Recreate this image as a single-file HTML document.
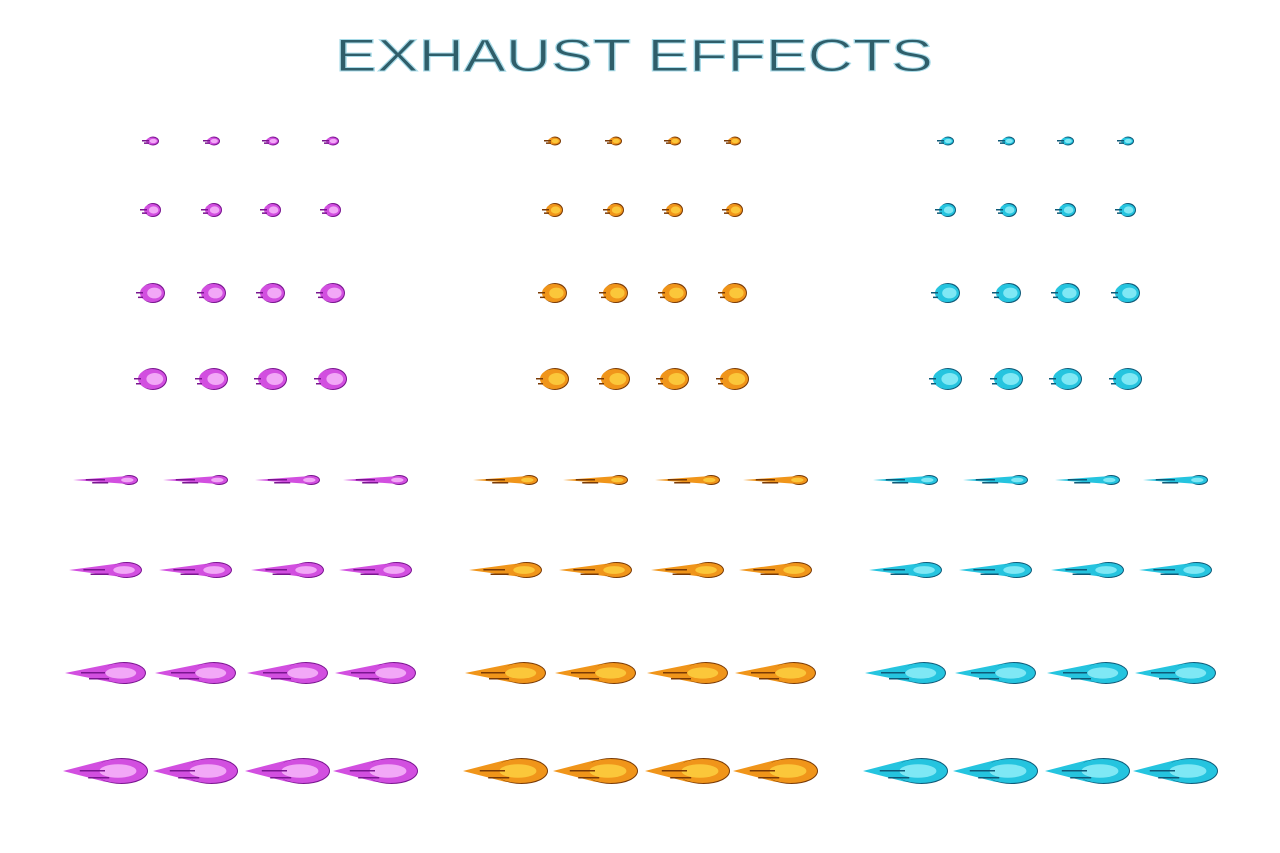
<!DOCTYPE html>
<html><head><meta charset="utf-8"><style>
html,body{margin:0;padding:0;background:#fff;width:1280px;height:853px;overflow:hidden}
</style></head><body>
<svg id="sheet" width="1280" height="853" viewBox="0 0 1280 853" xmlns="http://www.w3.org/2000/svg">
<text x="335" y="71" textLength="598" lengthAdjust="spacingAndGlyphs" font-family="Liberation Sans, sans-serif" font-weight="normal" font-size="45" fill="#2f5e6a" stroke="#a8dbe8" stroke-width="1">EXHAUST EFFECTS</text>
<g id="sprites"></g>
</svg>
<script>
const themes = [
  {name:'purple', dark:'#7a1590', mid:'#d24fe0', light:'#f2a8f7', core:'#fbe0fd'},
  {name:'orange', dark:'#7a3a05', mid:'#f0951a', light:'#fbc73a', core:'#fff2a0'},
  {name:'cyan',   dark:'#0e5a78', mid:'#25c4df', light:'#7fe8f5', core:'#d8fbff'}
];
const topGroupX = [152, 554, 947];
const topColOffsets = [0, 61, 120, 180];
const topRowY = [141, 210, 293, 379];
const topRowW = [12, 16, 24, 28];
const topRowH = [7, 12, 18, 20];
const botGroupX = [105, 505, 905];
const botColOffsets = [0, 90, 182, 270];
const botRowY = [480, 570, 673, 771];
const botRowLen = [64, 72, 80, 84];
const botRowH = [8, 14, 20, 24];

const NS = 'http://www.w3.org/2000/svg';
const g = document.getElementById('sprites');
function el(tag, attrs, parent){
  const e = document.createElementNS(NS, tag);
  for (const k in attrs) e.setAttribute(k, attrs[k]);
  parent.appendChild(e);
  return e;
}
themes.forEach((t, gi) => {
  topRowY.forEach((y, ri) => {
    topColOffsets.forEach((off, ci) => {
      const cx = topGroupX[gi] + off, w = topRowW[ri], h = topRowH[ri];
      const s = el('g', {}, g);
      
      
      el('ellipse', {cx:cx+1, cy:y, rx:w/2, ry:h/2+1, fill:t.dark}, s);
      el('ellipse', {cx:cx, cy:y, rx:w/2, ry:h/2, fill:t.mid}, s);
      el('ellipse', {cx:cx+w*0.1, cy:y, rx:w*0.3, ry:h*0.3, fill:t.light}, s);
      el('rect', {x:cx-w/2-4, y:y-1, width:7, height:1.5, fill:t.dark}, s);
      el('rect', {x:cx-w/2-2, y:y+h*0.2, width:5, height:1.5, fill:t.dark}, s);
    });
  });
  botRowY.forEach((y, ri) => {
    botColOffsets.forEach((off, ci) => {
      const cx = botGroupX[gi] + off, L = botRowLen[ri], h = botRowH[ri];
      const left = cx - L/2, right = cx + L/2;
      const headR = h*1.1;
      const s = el('g', {}, g);
      
      
      el('polygon', {points:`${left},${y} ${right-headR*1.6},${y-h*0.45} ${right-headR},${y-h/2} ${right-headR},${y+h/2} ${right-headR*1.6},${y+h*0.45}`, fill:t.mid}, s);
      el('ellipse', {cx:right-headR+1, cy:y, rx:headR, ry:h/2+1, fill:t.dark}, s);
      el('ellipse', {cx:right-headR, cy:y, rx:headR, ry:h/2, fill:t.mid}, s);
      el('ellipse', {cx:right-headR*1.1, cy:y, rx:headR*0.7, ry:h*0.28, fill:t.light}, s);
      el('rect', {x:left+L*0.2, y:y-1, width:L*0.3, height:1.5, fill:t.dark}, s);
      el('rect', {x:left+L*0.3, y:y+h*0.25, width:L*0.25, height:1.5, fill:t.dark}, s);
    });
  });
});
</script>
</body></html>
